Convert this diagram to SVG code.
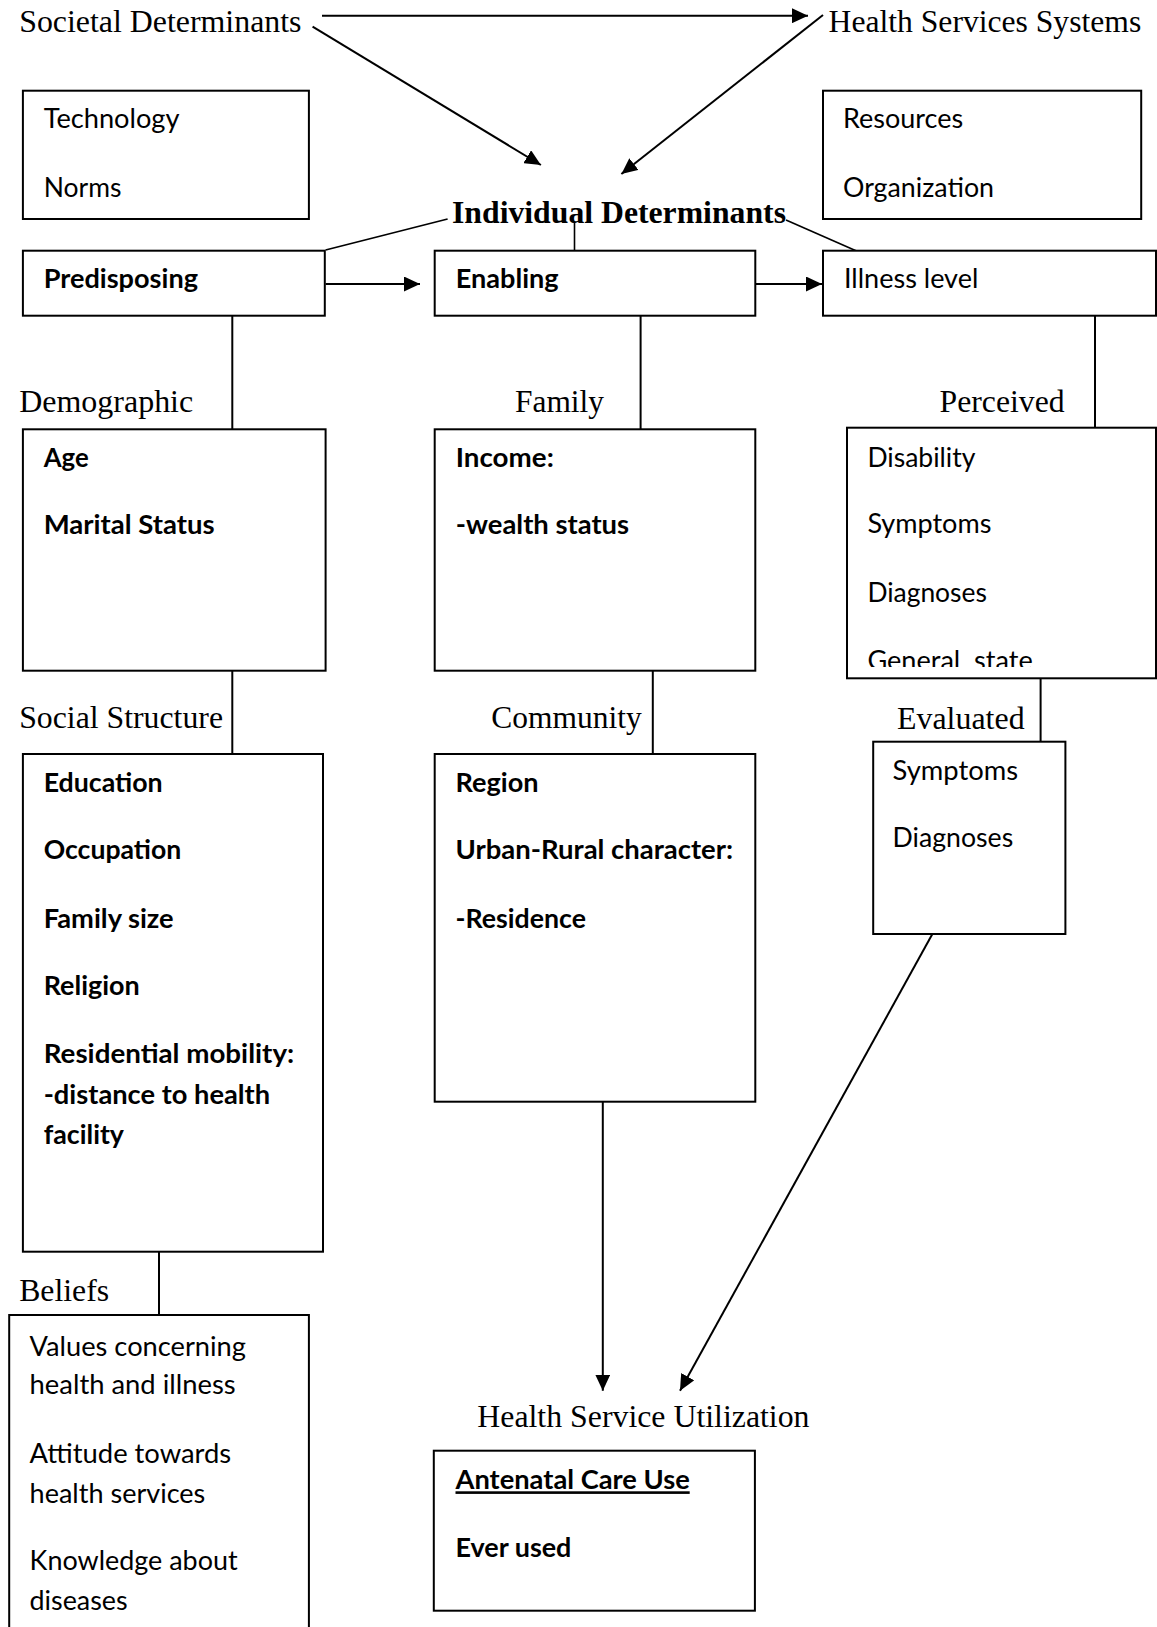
<svg xmlns="http://www.w3.org/2000/svg" width="1157" height="1627" viewBox="0 0 1157 1627">
<style>
.box{fill:#fff;stroke:#000;stroke-width:2}
.conn{stroke:#000;stroke-width:2;fill:none}
.thin{stroke:#000;stroke-width:1.6;fill:none}
.serif{font-family:"Liberation Serif","Times New Roman",serif;font-size:31.5px;fill:#000}
.cal{font-family:Lato,"Liberation Sans",sans-serif;font-size:26px;fill:#000}
.b{font-weight:bold}
</style>
<defs>
<marker id="ah" viewBox="0 0 16 15" refX="16" refY="7.5" markerWidth="16" markerHeight="15" markerUnits="userSpaceOnUse" orient="auto">
<path d="M0,0 L16,7.5 L0,15 z" fill="#000"/>
</marker>
<clipPath id="clipGen"><rect x="847" y="600" width="310" height="67"/></clipPath>
</defs>
<rect width="1157" height="1627" fill="#fff"/>

<g id="connectors">
<line class="conn" x1="322" y1="15.7" x2="808" y2="15.7" marker-end="url(#ah)"/>
<line class="conn" x1="312.6" y1="26.7" x2="540.9" y2="165" marker-end="url(#ah)"/>
<line class="conn" x1="823" y1="15" x2="621.4" y2="174" marker-end="url(#ah)"/>
<line class="thin" x1="447.6" y1="219" x2="325.6" y2="250"/>
<line class="thin" x1="574.5" y1="222.7" x2="574.5" y2="250.7"/>
<line class="thin" x1="786" y1="220" x2="856" y2="250.7"/>
<line class="conn" x1="325.6" y1="284" x2="420" y2="284" marker-end="url(#ah)"/>
<line class="conn" x1="755.3" y1="284" x2="822" y2="284" marker-end="url(#ah)"/>
<line class="conn" x1="232.3" y1="315.7" x2="232.3" y2="429.3"/>
<line class="conn" x1="640.6" y1="315.7" x2="640.6" y2="429.3"/>
<line class="conn" x1="1095" y1="315.7" x2="1095" y2="427.7"/>
<line class="conn" x1="232.3" y1="670.7" x2="232.3" y2="754"/>
<line class="conn" x1="652.8" y1="670.7" x2="652.8" y2="754"/>
<line class="conn" x1="1040.6" y1="678.3" x2="1040.6" y2="741.7"/>
<line class="conn" x1="159" y1="1251.7" x2="159" y2="1315"/>
<line class="conn" x1="602.8" y1="1101.7" x2="602.8" y2="1390.7" marker-end="url(#ah)"/>
<line class="conn" x1="935" y1="929.3" x2="680" y2="1390.7" marker-end="url(#ah)"/>
</g>

<g id="societal">
<text class="serif" x="19.2" y="31.7" textLength="282.3" lengthAdjust="spacingAndGlyphs">Societal Determinants</text>
</g>
<g id="health-services-systems">
<text class="serif" x="828.6" y="32.3" textLength="312.6" lengthAdjust="spacingAndGlyphs">Health Services Systems</text>
</g>
<g id="societal-box">
<rect class="box" x="22.9" y="90.7" width="286" height="128.3"/>
<text class="cal" x="43.7" y="128.3" textLength="135.8" lengthAdjust="spacingAndGlyphs">Technology</text>
<text class="cal" x="43.7" y="196.7" textLength="77.7" lengthAdjust="spacingAndGlyphs">Norms</text>
</g>
<g id="resources-box">
<rect class="box" x="823" y="90.7" width="318.2" height="128.3"/>
<text class="cal" x="843" y="128.3" textLength="120.2" lengthAdjust="spacingAndGlyphs">Resources</text>
<text class="cal" x="843" y="196.7" textLength="151" lengthAdjust="spacingAndGlyphs">Organization</text>
</g>
<g id="individual">
<text class="serif b" x="452" y="222.7" textLength="334" lengthAdjust="spacingAndGlyphs">Individual Determinants</text>
</g>
<g id="predisposing">
<rect class="box" x="22.9" y="250.7" width="301.9" height="65"/>
<text class="cal b" x="43.7" y="288.3" textLength="154.3" lengthAdjust="spacingAndGlyphs">Predisposing</text>
</g>
<g id="enabling">
<rect class="box" x="434.7" y="250.7" width="320.6" height="65"/>
<text class="cal b" x="455.8" y="288.3" textLength="102.8" lengthAdjust="spacingAndGlyphs">Enabling</text>
</g>
<g id="illness">
<rect class="box" x="823" y="250.7" width="333" height="65"/>
<text class="cal" x="844" y="288.3" textLength="134.3" lengthAdjust="spacingAndGlyphs">Illness level</text>
</g>

<g id="demographic">
<text class="serif" x="19.2" y="412.3" textLength="174" lengthAdjust="spacingAndGlyphs">Demographic</text>
<rect class="box" x="22.9" y="429.3" width="302.7" height="241.4"/>
<text class="cal b" x="43.7" y="466.7" textLength="45" lengthAdjust="spacingAndGlyphs">Age</text>
<text class="cal b" x="43.7" y="534" textLength="171" lengthAdjust="spacingAndGlyphs">Marital Status</text>
</g>
<g id="family">
<text class="serif" x="515" y="412.3" textLength="89" lengthAdjust="spacingAndGlyphs">Family</text>
<rect class="box" x="434.7" y="429.3" width="320.6" height="241.4"/>
<text class="cal b" x="455.8" y="466.7" textLength="98" lengthAdjust="spacingAndGlyphs">Income:</text>
<text class="cal b" x="455.8" y="534" textLength="173.3" lengthAdjust="spacingAndGlyphs">-wealth status</text>
</g>
<g id="perceived">
<text class="serif" x="939.6" y="412.3" textLength="125" lengthAdjust="spacingAndGlyphs">Perceived</text>
<rect class="box" x="847" y="427.7" width="309" height="250.6"/>
<text class="cal" x="867.4" y="466.7" textLength="108" lengthAdjust="spacingAndGlyphs">Disability</text>
<text class="cal" x="867.4" y="533.3" textLength="124" lengthAdjust="spacingAndGlyphs">Symptoms</text>
<text class="cal" x="867.4" y="601.7" textLength="119.5" lengthAdjust="spacingAndGlyphs">Diagnoses</text>
<text class="cal" clip-path="url(#clipGen)" style="white-space:pre" x="867.4" y="670" textLength="165.4" lengthAdjust="spacingAndGlyphs">General  state</text>
</g>

<g id="social-structure">
<text class="serif" x="19.2" y="728.3" textLength="203.8" lengthAdjust="spacingAndGlyphs">Social Structure</text>
<rect class="box" x="22.9" y="754" width="300.1" height="497.7"/>
<text class="cal b" x="43.7" y="791.7" textLength="119" lengthAdjust="spacingAndGlyphs">Education</text>
<text class="cal b" x="43.7" y="859.3" textLength="137.6" lengthAdjust="spacingAndGlyphs">Occupation</text>
<text class="cal b" x="43.7" y="927.7" textLength="130" lengthAdjust="spacingAndGlyphs">Family size</text>
<text class="cal b" x="43.7" y="995" textLength="96" lengthAdjust="spacingAndGlyphs">Religion</text>
<text class="cal b" x="43.7" y="1063.3" textLength="250.5" lengthAdjust="spacingAndGlyphs">Residential mobility:</text>
<text class="cal b" x="43.7" y="1104" textLength="226.4" lengthAdjust="spacingAndGlyphs">-distance to health</text>
<text class="cal b" x="43.7" y="1144" textLength="80.3" lengthAdjust="spacingAndGlyphs">facility</text>
</g>
<g id="community">
<text class="serif" x="491.3" y="728.3" textLength="150.4" lengthAdjust="spacingAndGlyphs">Community</text>
<rect class="box" x="434.7" y="754" width="320.6" height="347.7"/>
<text class="cal b" x="455.5" y="791.7" textLength="83" lengthAdjust="spacingAndGlyphs">Region</text>
<text class="cal b" x="455.5" y="859.3" textLength="277.6" lengthAdjust="spacingAndGlyphs">Urban-Rural character:</text>
<text class="cal b" x="455.5" y="927.7" textLength="130.4" lengthAdjust="spacingAndGlyphs">-Residence</text>
</g>
<g id="evaluated">
<text class="serif" x="897" y="729.3" textLength="127.6" lengthAdjust="spacingAndGlyphs">Evaluated</text>
<rect class="box" x="873.2" y="741.7" width="192.2" height="192.3"/>
<text class="cal" x="892.5" y="780" textLength="125.5" lengthAdjust="spacingAndGlyphs">Symptoms</text>
<text class="cal" x="892.5" y="847.3" textLength="120.7" lengthAdjust="spacingAndGlyphs">Diagnoses</text>
</g>

<g id="beliefs">
<text class="serif" x="19.2" y="1300.7" textLength="89.9" lengthAdjust="spacingAndGlyphs">Beliefs</text>
<rect class="box" x="9.2" y="1315" width="299.7" height="330"/>
<text class="cal" x="29.6" y="1356" textLength="216.4" lengthAdjust="spacingAndGlyphs">Values concerning</text>
<text class="cal" x="29.6" y="1394.3" textLength="206" lengthAdjust="spacingAndGlyphs">health and illness</text>
<text class="cal" x="29.6" y="1462.7" textLength="201.6" lengthAdjust="spacingAndGlyphs">Attitude towards</text>
<text class="cal" x="29.6" y="1502.7" textLength="175.7" lengthAdjust="spacingAndGlyphs">health services</text>
<text class="cal" x="29.6" y="1570" textLength="208" lengthAdjust="spacingAndGlyphs">Knowledge about</text>
<text class="cal" x="29.6" y="1610" textLength="98" lengthAdjust="spacingAndGlyphs">diseases</text>
</g>

<g id="utilization">
<text class="serif" x="477.3" y="1426.7" textLength="332.2" lengthAdjust="spacingAndGlyphs">Health Service Utilization</text>
<rect class="box" x="433.8" y="1450.7" width="321.1" height="160"/>
<text class="cal b" x="455.5" y="1489.3" textLength="234.2" lengthAdjust="spacingAndGlyphs" text-decoration="underline">Antenatal Care Use</text>
<text class="cal b" x="455.5" y="1556.7" textLength="115.9" lengthAdjust="spacingAndGlyphs">Ever used</text>
</g>
</svg>
